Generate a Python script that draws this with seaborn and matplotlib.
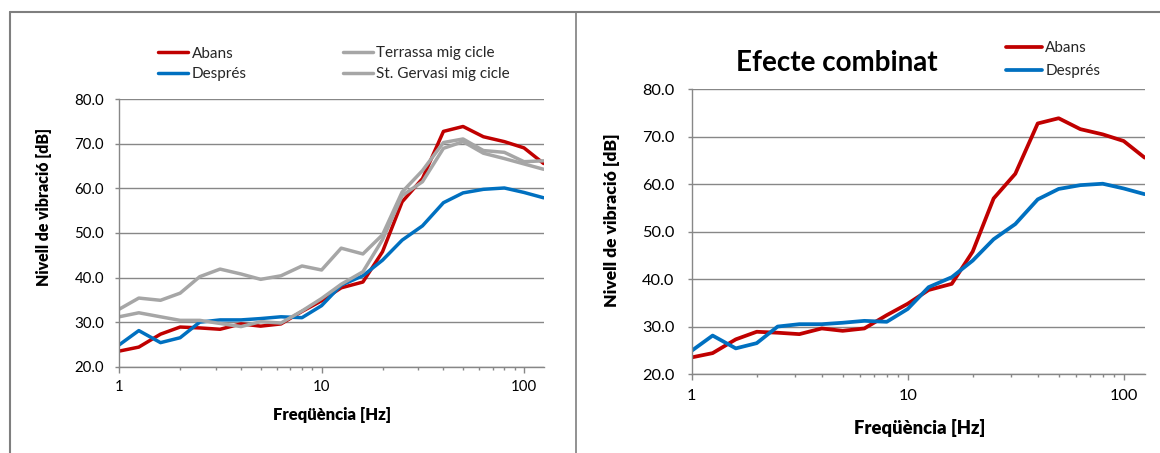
import numpy as np
import pandas as pd
import matplotlib
matplotlib.use("Agg")
import matplotlib.pyplot as plt
from matplotlib.lines import Line2D
from matplotlib.ticker import NullFormatter, LogLocator, FixedLocator
import seaborn as sns

# ---------------- data ----------------
freqs = [1, 1.25, 1.6, 2, 2.5, 3.15, 4, 5, 6.3, 8, 10, 12.5, 16, 20, 25, 31.5, 40, 50, 63, 80, 100, 125]
abans = [23.5, 24.4, 27.3, 28.9, 28.7, 28.4, 29.6, 29.1, 29.6, 32.4, 34.8, 37.7, 39.0, 45.8, 57.0, 62.2, 72.8, 73.9, 71.6, 70.5, 69.1, 65.6]
despres = [24.9, 28.1, 25.4, 26.5, 30.0, 30.5, 30.5, 30.8, 31.2, 31.0, 33.7, 38.3, 40.4, 43.9, 48.4, 51.6, 56.8, 59.0, 59.8, 60.1, 59.1, 57.9]
terrassa = [32.9, 35.4, 34.9, 36.5, 40.2, 41.9, 40.8, 39.6, 40.4, 42.6, 41.7, 46.6, 45.3, 49.6, 59.2, 64.0, 70.3, 71.1, 68.5, 68.1, 66.0, 66.2]
gervasi = [31.2, 32.1, 31.2, 30.4, 30.4, 29.7, 29.0, 30.1, 29.8, 32.5, 35.3, 38.5, 41.3, 48.5, 58.4, 61.5, 69.0, 70.5, 67.9, 66.7, 65.5, 64.3]

series_names = ["Abans", "Després", "Terrassa mig cicle", "St. Gervasi mig cicle"]
series_values = [abans, despres, terrassa, gervasi]
series_colors = ["#C00000", "#0070C0", "#A6A6A6", "#A6A6A6"]

yticks = [20, 30, 40, 50, 60, 70, 80]
ytick_labels = ["20.0", "30.0", "40.0", "50.0", "60.0", "70.0", "80.0"]
xticks = [1, 10, 100]
xtick_labels = ["1", "10", "100"]

xlabel = "Freqüència [Hz]"
ylabel = "Nivell de vibració [dB]"
title_right = "Efecte combinat"

# ---------------- style ----------------
sns.set_theme(style="white")
plt.rcParams["font.family"] = ["Lato", "DejaVu Sans"]

W, H = 1160, 453
fig = plt.figure(figsize=(W / 100, H / 100), dpi=100)
fig.patch.set_facecolor("white")

GRID = "#878787"

def px_ax(x0, x1, ytop, ybot):
    return [x0 / W, 1 - ybot / H, (x1 - x0) / W, (ybot - ytop) / H]

axL = fig.add_axes(px_ax(119.2, 543.6, 99.3, 366.7))
axR = fig.add_axes(px_ax(691.7, 1144.6, 89.3, 374.0))

df_all = pd.concat(
    [pd.DataFrame({"freq": freqs, "value": v, "series": n}) for n, v in zip(series_names, series_values)],
    ignore_index=True,
)
pal = dict(zip(series_names, series_colors))

def style_axis(ax, tick_fs, ypad, xpad, xlab_fs, ylab_fs, ylab_xy, xlab_xy):
    ax.set_xscale("log")
    ax.set_xlim(1, 125)
    ax.set_ylim(20, 80)
    ax.set_yticks(yticks)
    ax.set_yticklabels(ytick_labels)
    ax.xaxis.set_major_locator(FixedLocator(xticks))
    ax.set_xticklabels(xtick_labels)
    ax.xaxis.set_minor_locator(LogLocator(base=10, subs=np.arange(2, 10)))
    ax.xaxis.set_minor_formatter(NullFormatter())
    ax.yaxis.grid(True, color=GRID, lw=1.0)
    ax.xaxis.grid(False)
    ax.set_axisbelow(True)
    for s in ["top", "right"]:
        ax.spines[s].set_visible(False)
    for s in ["left", "bottom"]:
        ax.spines[s].set_color(GRID)
        ax.spines[s].set_linewidth(1.0)
    ax.tick_params(axis="y", which="major", direction="out", length=3.2, width=1.0,
                   color=GRID, labelsize=tick_fs, pad=ypad, left=True, labelcolor="black")
    ax.tick_params(axis="x", which="major", direction="out", length=4.5, width=1.0,
                   color=GRID, labelsize=tick_fs, pad=xpad, bottom=True, labelcolor="black")
    ax.tick_params(axis="x", which="minor", direction="out", length=2.5, width=1.0,
                   color=GRID, bottom=True)
    ax.set_xlabel(xlabel, fontsize=xlab_fs, fontweight="heavy", color="black")
    ax.set_ylabel(ylabel, fontsize=ylab_fs, fontweight="heavy", color="black")
    ax.xaxis.set_label_coords(*xlab_xy)
    ax.xaxis.label.set_verticalalignment("center")
    ax.yaxis.set_label_coords(*ylab_xy)
    ax.yaxis.label.set_verticalalignment("center")
    ax.yaxis.label.set_horizontalalignment("center")

# ---------------- left panel ----------------
sns.lineplot(data=df_all, x="freq", y="value", hue="series", hue_order=series_names,
             palette=pal, lw=2.5, ax=axL, legend=False, sort=False)
for ln in axL.get_lines():
    ln.set_solid_joinstyle("round")
style_axis(axL, 10.8, 7.6, 5.3, 12, 11.4, (-0.178, 0.598), (0.5007, -0.1806))

linesL = axL.get_lines()[:4]
leg_kw = dict(frameon=False, borderpad=0, borderaxespad=0, fontsize=11,
              handletextpad=0.22, bbox_transform=fig.transFigure, loc="upper left")
legL1 = axL.legend(linesL[:2], series_names[:2],
                   bbox_to_anchor=(158.3 / W, 1 - 46.5 / H),
                   handlelength=1.97, labelspacing=0.42, **leg_kw)
axL.add_artist(legL1)
legL2 = axL.legend(linesL[2:4], series_names[2:4],
                   bbox_to_anchor=(342.7 / W, 1 - 46.5 / H),
                   handlelength=1.97, labelspacing=0.42, **leg_kw)

# ---------------- right panel ----------------
df_r = df_all[df_all["series"].isin(series_names[:2])]
sns.lineplot(data=df_r, x="freq", y="value", hue="series", hue_order=series_names[:2],
             palette=pal, lw=2.7, ax=axR, legend=False, sort=False)
for ln in axR.get_lines():
    ln.set_solid_joinstyle("round")
style_axis(axR, 11.8, 9.2, 6.6, 13.2, 12.6, (-0.1766, 0.541), (0.5028, -0.1897))
linesR = axR.get_lines()[:2]
axR.legend(linesR, series_names[:2],
           bbox_to_anchor=(1006 / W, 1 - 41 / H),
           handlelength=2.35, labelspacing=0.62, **leg_kw)
axR.text(0.321, 1.0653, title_right, transform=axR.transAxes, ha="center", va="baseline",
         fontsize=20, fontweight="bold", color="black")

# ---------------- frame (table borders) ----------------
FR = "#7F7F7F"
fig.add_artist(Line2D([10 / W, 10 / W], [0, 1 - 12.3 / H], transform=fig.transFigure, color=FR, lw=1.5))
fig.add_artist(Line2D([10 / W, 1], [1 - 12.3 / H, 1 - 12.3 / H], transform=fig.transFigure, color=FR, lw=1.5))
fig.add_artist(Line2D([575.7 / W, 575.7 / W], [0, 1 - 12.3 / H], transform=fig.transFigure, color=FR, lw=1.2))

fig.savefig("out.png", dpi=100, facecolor="white")
